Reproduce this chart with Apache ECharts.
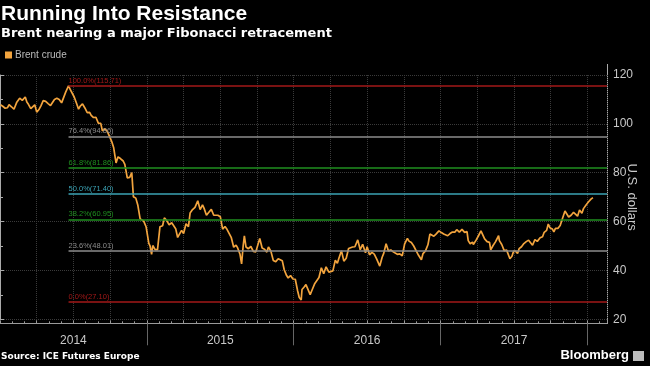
<!DOCTYPE html>
<html><head><meta charset="utf-8">
<script src="https://cdn.jsdelivr.net/npm/echarts@6/dist/echarts.min.js"></script>
<style>html,body{margin:0;padding:0;background:#000;}#c{width:650px;height:366px;}</style>
</head><body><div id="c"></div>
<script>
const dates = [
'2014-01-02','2014-01-08','2014-01-14','2014-01-20','2014-01-24','2014-01-30','2014-02-05','2014-02-11','2014-02-18','2014-02-24',
'2014-02-28','2014-03-03','2014-03-07','2014-03-11','2014-03-17','2014-03-21','2014-03-27','2014-04-01','2014-04-07','2014-04-11',
'2014-04-17','2014-04-23','2014-04-29','2014-05-05','2014-05-09','2014-05-15','2014-05-21','2014-05-27','2014-06-02','2014-06-06',
'2014-06-12','2014-06-19','2014-06-23','2014-06-27','2014-07-03','2014-07-09','2014-07-14','2014-07-18','2014-07-24','2014-07-30',
'2014-08-05','2014-08-11','2014-08-15','2014-08-21','2014-08-27','2014-09-02','2014-09-08','2014-09-12','2014-09-18','2014-09-24',
'2014-09-30','2014-10-06','2014-10-10','2014-10-16','2014-10-21','2014-10-27','2014-11-03','2014-11-07','2014-11-13','2014-11-19',
'2014-11-24','2014-11-28','2014-12-04','2014-12-09','2014-12-15','2014-12-19','2014-12-24','2014-12-30',
'2015-01-06','2015-01-09','2015-01-13','2015-01-16','2015-01-22','2015-01-28','2015-02-03','2015-02-09','2015-02-13','2015-02-18',
'2015-02-24','2015-03-02','2015-03-06','2015-03-12','2015-03-17','2015-03-23','2015-03-27','2015-04-01','2015-04-07','2015-04-13',
'2015-04-17','2015-04-23','2015-04-29','2015-05-06','2015-05-12','2015-05-18','2015-05-22','2015-05-28','2015-06-03','2015-06-09',
'2015-06-15','2015-06-19','2015-06-25','2015-07-01','2015-07-07','2015-07-13','2015-07-17','2015-07-23','2015-07-29','2015-08-04',
'2015-08-10','2015-08-14','2015-08-20','2015-08-24','2015-08-28','2015-08-31','2015-09-04','2015-09-10','2015-09-16','2015-09-22',
'2015-09-28','2015-10-02','2015-10-08','2015-10-14','2015-10-20','2015-10-26','2015-10-30','2015-11-05','2015-11-11','2015-11-17',
'2015-11-23','2015-11-27','2015-12-03','2015-12-08','2015-12-14','2015-12-18','2015-12-24','2015-12-30',
'2016-01-05','2016-01-11','2016-01-15','2016-01-20','2016-01-22','2016-01-27','2016-02-01','2016-02-05','2016-02-11','2016-02-16',
'2016-02-22','2016-02-26','2016-03-03','2016-03-09','2016-03-15','2016-03-21','2016-03-28','2016-04-01','2016-04-07','2016-04-13',
'2016-04-18','2016-04-22','2016-04-28','2016-05-04','2016-05-10','2016-05-16','2016-05-20','2016-05-26','2016-06-01','2016-06-08',
'2016-06-14','2016-06-20','2016-06-27','2016-07-01','2016-07-07','2016-07-13','2016-07-19','2016-07-25','2016-08-02','2016-08-08',
'2016-08-12','2016-08-18','2016-08-24','2016-08-30','2016-09-05','2016-09-09','2016-09-15','2016-09-21','2016-09-27','2016-10-03',
'2016-10-10','2016-10-14','2016-10-20','2016-10-26','2016-11-01','2016-11-07','2016-11-14','2016-11-18','2016-11-24','2016-11-30',
'2016-12-05','2016-12-09','2016-12-15','2016-12-21','2016-12-28',
'2017-01-03','2017-01-09','2017-01-13','2017-01-19','2017-01-25','2017-01-31','2017-02-06','2017-02-10','2017-02-16','2017-02-22',
'2017-02-28','2017-03-06','2017-03-09','2017-03-14','2017-03-20','2017-03-22','2017-03-29','2017-04-04','2017-04-10','2017-04-13',
'2017-04-19','2017-04-25','2017-05-01','2017-05-04','2017-05-10','2017-05-16','2017-05-24','2017-05-26','2017-06-01','2017-06-07',
'2017-06-13','2017-06-21','2017-06-26','2017-06-30','2017-07-06','2017-07-10','2017-07-14','2017-07-20','2017-07-26','2017-08-01',
'2017-08-07','2017-08-11','2017-08-17','2017-08-23','2017-08-29','2017-09-05','2017-09-11','2017-09-15','2017-09-21','2017-09-25',
'2017-09-29','2017-10-05','2017-10-09','2017-10-13','2017-10-19','2017-10-25','2017-10-31','2017-11-06','2017-11-10','2017-11-15',
'2017-11-21','2017-11-27','2017-12-01','2017-12-07','2017-12-12','2017-12-18','2017-12-22','2017-12-29',
'2018-01-04','2018-01-10','2018-01-15'
];
const brent = [
107.8,107.2,106.4,106.6,107.9,107.0,106.0,108.7,110.5,109.6,
109.1,111.0,108.9,108.0,106.2,106.9,107.8,104.8,106.0,107.3,
109.5,109.2,108.3,107.5,108.0,110.0,110.5,110.0,108.6,108.6,
113.0,115.6,114.1,113.3,111.0,108.3,106.0,107.2,108.2,106.5,
104.6,104.7,103.5,102.6,102.7,100.3,100.2,97.1,98.0,96.9,
94.7,92.3,90.2,84.0,86.5,85.8,84.8,83.4,77.9,78.1,
80.1,70.2,69.6,66.8,61.1,61.4,60.2,57.9,
51.1,50.1,46.6,50.2,48.5,48.5,57.9,58.3,61.5,60.5,
58.7,59.5,59.7,57.1,53.5,55.3,56.4,55.1,59.1,57.9,
63.5,64.9,65.8,68.5,64.9,66.8,65.4,62.6,63.8,65.0,
62.6,63.0,62.6,62.0,56.9,58.0,57.1,55.3,53.4,49.5,
50.4,49.2,46.6,42.7,50.1,54.2,49.6,48.9,49.8,47.8,
47.6,48.1,53.1,49.2,48.7,47.5,49.6,47.9,44.1,43.6,
44.8,44.9,44.0,40.3,37.9,36.9,37.9,36.5,
36.4,31.6,28.9,27.9,32.2,33.1,34.2,34.1,30.1,32.2,
34.7,35.1,37.1,41.1,38.7,41.5,39.3,38.7,39.8,44.2,
42.9,45.1,48.1,43.8,45.0,49.0,48.7,49.6,49.7,52.5,
48.5,50.7,47.2,49.7,46.4,47.4,46.7,44.7,41.8,45.4,
47.0,50.9,48.0,48.4,47.6,48.0,46.6,46.8,46.0,50.9,
53.1,52.0,51.4,50.0,48.1,46.2,44.4,46.9,48.0,50.5,
54.9,54.3,54.0,55.0,56.2,
55.5,54.9,55.5,54.2,55.1,55.7,55.7,56.7,55.7,56.8,
55.6,55.9,52.2,50.9,51.6,50.6,52.4,54.2,56.2,55.9,
52.9,51.8,51.5,48.4,50.2,51.7,54.2,52.2,50.6,48.1,
48.3,44.8,45.8,47.9,47.8,46.9,48.9,49.7,51.0,51.8,
52.4,52.1,50.3,52.6,51.9,53.4,53.8,55.6,56.4,59.0,
57.5,57.0,55.8,57.2,57.2,58.4,61.4,64.3,63.5,61.9,
62.6,63.8,63.7,62.2,64.7,63.4,65.3,66.9,
68.1,69.2,69.8
];
const fibLabels = ['100.0%','76.4%','61.8%','50.0%','38.2%','23.6%','0.0%'];
const fibValues = [115.71,94.86,81.86,71.40,60.95,48.01,27.10];
const fibColors = ['#a31818','#8c8c8c','#1f8f1f','#3ba3b5','#1f8f1f','#8c8c8c','#a31818'];
const fibStartDate = '2014-06-19';
const yearLabels = ['2014','2015','2016','2017'];

function toMonths(s){
  const p = s.split('-').map(Number);
  const dim = new Date(p[0], p[1], 0).getDate();
  return (p[0]-2014)*12 + (p[1]-1) + (p[2]-1)/dim;
}
const X_MAX = 49.6;
const seriesData = dates.map((d,i)=>[toMonths(d), brent[i]]);
const fibStart = toMonths(fibStartDate);
const markData = fibValues.map((v,i)=>[
  {coord:[fibStart, v], lineStyle:{color:fibColors[i], width:1.5, type:'solid'},
   label:{show:true, position:'insideStartTop', formatter: fibLabels[i]+'('+v.toFixed(2)+')',
          color:fibColors[i], fontSize:7.5, fontFamily:'Liberation Sans', distance:[0,1], padding:0}},
  {coord:[X_MAX, v]}
]);

const chart = echarts.init(document.getElementById('c'), null, {renderer:'canvas'});
chart.setOption({
  backgroundColor:'#000',
  animation:false,
  title:[
    {text:'Running Into Resistance', left:1, top:4, padding:0, textStyle:{color:'#fff', fontSize:21, fontWeight:'bold', fontFamily:'Liberation Sans'}},
    {text:'Brent nearing a major Fibonacci retracement', left:1, top:27, padding:0, textStyle:{color:'#fff', fontSize:13, fontWeight:'bold', fontFamily:'DejaVu Sans'}},
    {text:'Source: ICE Futures Europe', left:1, top:352, padding:0, textStyle:{color:'#fff', fontSize:9, fontWeight:'bold', fontFamily:'DejaVu Sans'}},
    {text:'Bloomberg', right:21, top:349, padding:0, textStyle:{color:'#fff', fontSize:13, fontWeight:'bold', fontFamily:'Liberation Sans'}}
  ],
  legend:{left:5, top:50, padding:0, icon:'rect', itemWidth:7, itemHeight:7, itemGap:4,
    textStyle:{color:'#bbb', fontSize:10, fontFamily:'Liberation Sans', padding:[0,0,0,-2]}},
  grid:{left:0, right:43, top:75, bottom:46.7, containLabel:false, outerBoundsMode:'none'},
  xAxis:[
    {type:'value', min:0, max:X_MAX, interval:3, offset:4,
     axisLine:{show:true, lineStyle:{color:'#9a9a9a', width:1}},
     axisTick:{show:true, length:3, inside:true, lineStyle:{color:'#9a9a9a'}},
     minorTick:{show:true, splitNumber:3, length:2, lineStyle:{color:'#9a9a9a'}},
     splitLine:{show:true, lineStyle:{color:'#3a3a3a', type:'dotted'}},
     axisLabel:{show:false}},
    {type:'value', min:0, max:X_MAX, offset:4, position:'bottom',
     axisLine:{show:false},
     axisTick:{show:true, customValues:[12,24,36,48], length:22, lineStyle:{color:'#666'}},
     splitLine:{show:false},
     axisLabel:{show:true, customValues:[6,18,30,42], margin:11, color:'#c8c8c8', fontSize:12, fontFamily:'Liberation Sans',
       formatter:(v)=>yearLabels[Math.round((v-6)/12)] || ''}}
  ],
  yAxis:{type:'value', position:'right', min:20, max:120, interval:20,
    axisLine:{show:true, lineStyle:{color:'#aaa'}},
    axisTick:{show:true, length:4, lineStyle:{color:'#aaa'}},
    minorTick:{show:true, splitNumber:2, length:3, lineStyle:{color:'#aaa'}},
    splitLine:{show:true, lineStyle:{color:'#3a3a3a', type:'dotted'}},
    axisLabel:{color:'#c8c8c8', fontSize:12, margin:6, fontFamily:'Liberation Sans'},
    name:'U.S. dollars', nameLocation:'middle', nameRotate:-90, nameGap:25, nameMoveOverlap:false,
    nameTextStyle:{color:'#c8c8c8', fontSize:13, fontFamily:'Liberation Sans', verticalAlign:'middle'}},
  graphic:[
    {type:'line', shape:{x1:607.5, y1:64, x2:607.5, y2:324}, style:{stroke:'#aaa', lineWidth:1}},
    {type:'rect', right:6, top:351, shape:{width:11, height:10}, style:{fill:'#bbb'}}
  ],
  series:[{
    name:'Brent crude', type:'line', xAxisIndex:0, data:seriesData, showSymbol:false,
    lineStyle:{color:'#f2a43e', width:1.7}, itemStyle:{color:'#f2a43e'},
    markLine:{silent:true, symbol:['none','none'], animation:false, data:markData}
  }]
});
</script></body></html>
